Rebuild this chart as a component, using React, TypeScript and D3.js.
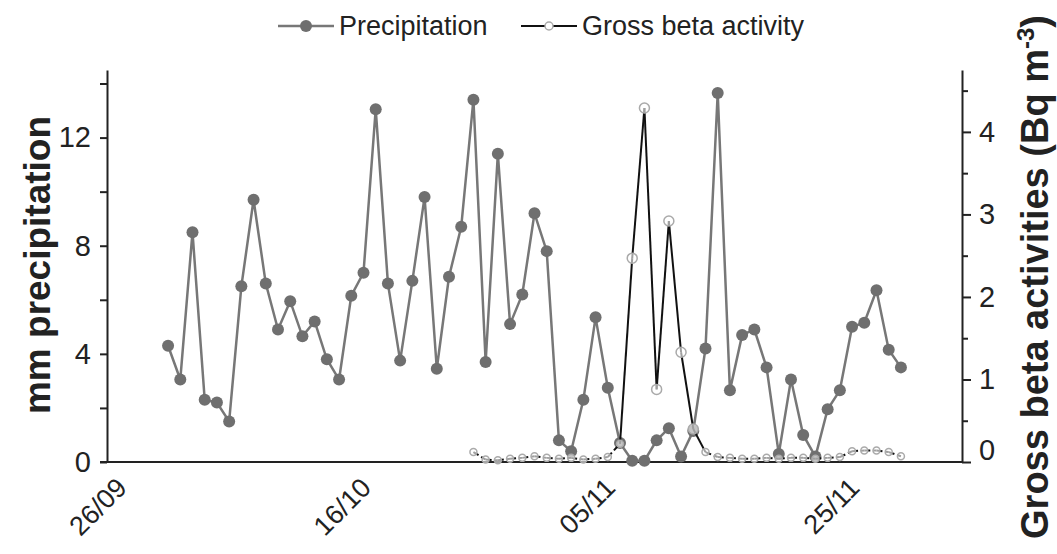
import React, { useEffect, useRef } from 'react';
import * as d3 from 'd3';

// daily precipitation (mm), first value on 01/10
const precipStart = '2012-10-01';
const precipitation = [
  4.3, 3.05, 8.5, 2.3, 2.2, 1.5, 6.5, 9.7, 6.6, 4.9,
  5.95, 4.65, 5.2, 3.8, 3.05, 6.15, 7.0, 13.05, 6.6, 3.75,
  6.7, 9.8, 3.45, 6.85, 8.7, 13.4, 3.7, 11.4, 5.1, 6.2,
  9.2, 7.8, 0.8, 0.4, 2.3, 5.35, 2.75, 0.7, 0.05, 0.05,
  0.8, 1.25, 0.2, 1.15, 4.2, 13.65, 2.65, 4.7, 4.9, 3.5,
  0.3, 3.05, 1.0, 0.2, 1.95, 2.65, 5.0, 5.15, 6.35, 4.15, 3.5,
];

// gross beta activity (Bq m-3), first value on 26/10
const betaStart = '2012-10-26';
const betaActivity = [
  0.12, 0.03, 0.02, 0.04, 0.05, 0.07, 0.05, 0.04, 0.05, 0.03, 0.04, 0.06,
  0.22, 2.47, 4.29, 0.88, 2.92, 1.33, 0.4, 0.12,
  0.06, 0.05, 0.04, 0.04, 0.05, 0.04, 0.05, 0.05, 0.04, 0.05, 0.06,
  0.13, 0.14, 0.14, 0.12, 0.07,
];

const xDomain = ['2012-09-26', '2012-12-05'];
const xTicks = ['2012-09-26', '2012-10-16', '2012-11-05', '2012-11-25'];
const leftTicks = [0, 2, 4, 6, 8, 10, 12, 14];
const rightTicks = [0, 0.5, 1, 1.5, 2, 2.5, 3, 3.5, 4, 4.5];

const W = 1057;
const H = 554;
const font = '"Liberation Sans", Arial, Helvetica, sans-serif';

export default function App() {
  const ref = useRef<SVGSVGElement | null>(null);

  useEffect(() => {
    const parse = d3.timeParse('%Y-%m-%d');
    const svg = d3.select(ref.current);
    svg.selectAll('*').remove();

    const left = 107, right = 962, top = 70, bottom = 462;

    const x = d3.scaleTime()
      .domain(xDomain.map(d => parse(d) as Date))
      .range([left, right]);
    const yL = d3.scaleLinear().domain([0, 14.5]).range([bottom, top]);
    const yR = d3.scaleLinear().domain([0, 4.75]).range([bottom, top]);

    const p0 = parse(precipStart) as Date;
    const b0 = parse(betaStart) as Date;
    const precip = precipitation.map((v, i) => ({ date: d3.timeDay.offset(p0, i), v }));
    const beta = betaActivity.map((v, i) => ({ date: d3.timeDay.offset(b0, i), v }));

    // left axis
    const gL = svg.append('g')
      .attr('transform', `translate(${left},0)`)
      .call(d3.axisLeft(yL).tickValues(leftTicks).tickSize(7).tickSizeOuter(0)
        .tickFormat(d => (+d % 4 === 0 ? String(d) : '')));
    gL.select('.domain').attr('stroke', '#222').attr('stroke-width', 2);
    gL.selectAll('.tick line').attr('stroke', '#222').attr('stroke-width', 2);
    gL.selectAll('.tick text')
      .attr('font-family', font).attr('font-size', 29).attr('fill', '#222')
      .attr('x', -16);

    // right axis
    const gR = svg.append('g')
      .attr('transform', `translate(${right},0)`)
      .call(d3.axisRight(yR).tickValues(rightTicks).tickSize(8).tickSizeOuter(0)
        .tickFormat(d => (Number.isInteger(+d) ? String(d) : '')));
    gR.select('.domain').attr('stroke', '#222').attr('stroke-width', 2);
    gR.selectAll('.tick line').attr('stroke', '#222').attr('stroke-width', 2)
      .attr('x2', (d: any) => (Number.isInteger(+d) ? 9 : 6));
    gR.selectAll('.tick text')
      .attr('font-family', font).attr('font-size', 29).attr('fill', '#222')
      .attr('x', 17)
      .attr('dy', (d: any) => (+d === 0 ? '-0.1em' : '0.32em'));

    // x axis line
    svg.append('line')
      .attr('x1', left - 7).attr('x2', right)
      .attr('y1', bottom).attr('y2', bottom)
      .attr('stroke', '#222').attr('stroke-width', 2);

    svg.append('g').selectAll('text')
      .data(xTicks.map(d => parse(d) as Date))
      .enter().append('text')
      .attr('transform', d => `translate(${x(d) + 8},${bottom + 14}) rotate(-45)`)
      .attr('text-anchor', 'end')
      .attr('dy', '0.7em')
      .attr('font-family', font).attr('font-size', 27).attr('fill', '#222')
      .text(d3.timeFormat('%d/%m'));

    // precipitation series
    const lineP = d3.line<{ date: Date; v: number }>()
      .x(d => x(d.date)).y(d => yL(d.v));
    svg.append('path')
      .datum(precip)
      .attr('d', lineP)
      .attr('fill', 'none').attr('stroke', '#777').attr('stroke-width', 2.5);
    svg.append('g').selectAll('circle')
      .data(precip).enter().append('circle')
      .attr('cx', d => x(d.date)).attr('cy', d => yL(d.v))
      .attr('r', 6).attr('fill', '#6f6f6f');

    // gross beta series, dashed where it sits near the baseline
    const segs = d3.pairs(beta);
    svg.append('g').selectAll('line')
      .data(segs).enter().append('line')
      .attr('x1', d => x(d[0].date)).attr('y1', d => yR(d[0].v))
      .attr('x2', d => x(d[1].date)).attr('y2', d => yR(d[1].v))
      .attr('stroke', '#111').attr('stroke-width', 2)
      .attr('stroke-dasharray', d => (d[0].v < 0.3 && d[1].v < 0.3 ? '6,3' : null));
    svg.append('g').selectAll('circle')
      .data(beta).enter().append('circle')
      .attr('cx', d => x(d.date)).attr('cy', d => yR(d.v))
      .attr('r', d => (d.v < 0.3 ? 3.5 : 5)).attr('fill', 'white').attr('fill-opacity', 0.6)
      .attr('stroke', '#aaa').attr('stroke-width', 1.5);

    // axis titles
    svg.append('text')
      .attr('transform', `translate(50,265) rotate(-90)`)
      .attr('text-anchor', 'middle')
      .attr('font-family', font).attr('font-size', 37).attr('font-weight', 'bold').attr('fill', '#222')
      .text('mm precipitation');

    const rt = svg.append('text')
      .attr('transform', `translate(1048,277) rotate(-90)`)
      .attr('text-anchor', 'middle')
      .attr('font-family', font).attr('font-size', 38).attr('font-weight', 'bold').attr('fill', '#222');
    rt.append('tspan').text('Gross beta activities (Bq m');
    rt.append('tspan').attr('dy', -14).attr('font-size', 24).text('-3');
    rt.append('tspan').attr('dy', 14).text(')');

    // legend
    const leg = svg.append('g').attr('font-family', font).attr('font-size', 27).attr('fill', '#222');
    leg.append('line').attr('x1', 278).attr('x2', 334).attr('y1', 26).attr('y2', 26)
      .attr('stroke', '#777').attr('stroke-width', 2.5);
    leg.append('circle').attr('cx', 306).attr('cy', 26).attr('r', 6).attr('fill', '#6f6f6f');
    leg.append('text').attr('x', 339).attr('y', 26).attr('dy', '0.35em').text('Precipitation');
    leg.append('line').attr('x1', 521).attr('x2', 577).attr('y1', 26).attr('y2', 26)
      .attr('stroke', '#111').attr('stroke-width', 2);
    leg.append('circle').attr('cx', 549).attr('cy', 26).attr('r', 4)
      .attr('fill', 'white').attr('stroke', '#aaa').attr('stroke-width', 1.5);
    leg.append('text').attr('x', 582).attr('y', 26).attr('dy', '0.35em').text('Gross beta activity');
  }, []);

  return (
    <svg ref={ref} width={W} height={H}
      style={{ position: 'absolute', left: 0, top: 0, display: 'block', background: 'white' }} />
  );
}
